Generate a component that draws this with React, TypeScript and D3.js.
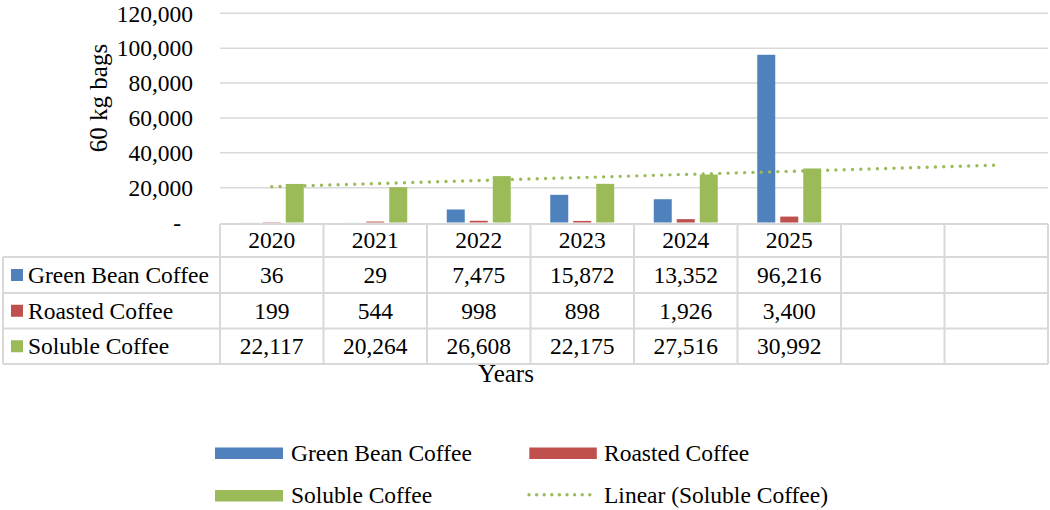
import React from "react";
import * as d3 from "d3";

// Coffee exports, in 60 kg bags, by year
const years = ["2020", "2021", "2022", "2023", "2024", "2025", "", ""];
const seriesNames = ["Green Bean Coffee", "Roasted Coffee", "Soluble Coffee"];
const greenBean = [36, 29, 7475, 15872, 13352, 96216];
const roasted = [199, 544, 998, 898, 1926, 3400];
const soluble = [22117, 20264, 26608, 22175, 27516, 30992];
const yTicks = [0, 20000, 40000, 60000, 80000, 100000, 120000];
const colors = ["#4f81bd", "#c0504d", "#9bbb59"];

const W = 1050;
const H = 510;
const FONT = "'Liberation Serif', 'Times New Roman', serif";
const GRID = "#d9d9d9";

export default function App() {
  const values = [greenBean, roasted, soluble];
  const fmt = d3.format(",");

  const plotLeft = 220;
  const plotRight = 1048;
  const plotTop = 13.3;
  const plotBottom = 222.5;

  const x = d3.scaleBand<number>().domain(d3.range(years.length)).range([plotLeft, plotRight]);
  const step = x.step();
  const x1 = d3
    .scaleBand<number>()
    .domain(d3.range(seriesNames.length))
    .range([0, step])
    .paddingInner(5 / 23)
    .paddingOuter(0.8587);
  const y = d3.scaleLinear().domain([0, 120000]).range([plotBottom, plotTop]);

  // Least-squares linear trend of soluble coffee, extended across all columns
  const n = soluble.length;
  const xs = d3.range(1, n + 1);
  const mx = d3.mean(xs)!;
  const my = d3.mean(soluble)!;
  const slope =
    d3.sum(xs, (xi, i) => (xi - mx) * (soluble[i] - my)) / d3.sum(xs, (xi) => (xi - mx) ** 2);
  const intercept = my - slope * mx;
  const trendPts: [number, number][] = d3.range(years.length).map((i) => [
    x(i)! + step / 2,
    y(intercept + slope * (i + 1)),
  ]);
  const trendPath = d3.line()(trendPts)!;

  // Data table geometry
  const tableLeft = 3;
  const headerTop = 224;
  const rowLines = [257, 293, 328.5, 364];

  return (
    <svg
      width={W}
      height={H}
      style={{ position: "absolute", left: 0, top: 0, background: "#fff", fontFamily: FONT }}
    >
      {/* gridlines */}
      {yTicks.slice(1).map((t) => (
        <line key={t} x1={plotLeft} x2={plotRight} y1={y(t)} y2={y(t)} stroke={GRID} strokeWidth={1.5} />
      ))}
      {/* y tick labels */}
      {yTicks.map((t) => (
        <text
          key={t}
          x={t === 0 ? 181 : 193}
          y={y(t)}
          dy="0.35em"
          textAnchor="end"
          fontSize={23.5}
          fill="#000"
        >
          {t === 0 ? "-" : fmt(t)}
        </text>
      ))}
      <text
        transform={`translate(107,98) rotate(-90)`}
        textAnchor="middle"
        fontSize={25}
        fill="#000"
      >
        60 kg bags
      </text>

      {/* bars */}
      {values.map((vals, s) =>
        vals.map((v, i) => (
          <rect
            key={`${s}-${i}`}
            x={x(i)! + x1(s)!}
            y={y(v)}
            width={x1.bandwidth()}
            height={plotBottom - y(v)}
            fill={colors[s]}
          />
        ))
      )}

      {/* trendline */}
      <path
        d={trendPath}
        fill="none"
        stroke="#9bbb59"
        strokeWidth={3.4}
        strokeLinecap="round"
        strokeDasharray="0 8.3"
      />

      {/* data table */}
      <g stroke={GRID} strokeWidth={2}>
        <line x1={plotLeft} x2={plotRight} y1={headerTop} y2={headerTop} />
        {rowLines.map((ry) => (
          <line key={ry} x1={tableLeft} x2={plotRight} y1={ry} y2={ry} />
        ))}
        <line x1={tableLeft} x2={tableLeft} y1={rowLines[0]} y2={rowLines[3]} />
        {d3.range(years.length + 1).map((i) => {
          const lx = plotLeft + i * step;
          return <line key={i} x1={lx} x2={lx} y1={headerTop} y2={rowLines[3]} />;
        })}
      </g>
      {years.map((yr, i) => (
        <text key={i} x={x(i)! + step / 2} y={248} textAnchor="middle" fontSize={23.5}>
          {yr}
        </text>
      ))}
      {seriesNames.map((name, s) => {
        const top = rowLines[s];
        const bottom = rowLines[s + 1];
        const mid = (top + bottom) / 2;
        return (
          <g key={name}>
            <rect x={11} y={mid - 6} width={12} height={12} fill={colors[s]} />
            <text x={28} y={mid + 8} fontSize={23.5}>
              {name}
            </text>
            {values[s].map((v, i) => (
              <text key={i} x={x(i)! + step / 2} y={mid + 8} textAnchor="middle" fontSize={23.5}>
                {fmt(v)}
              </text>
            ))}
          </g>
        );
      })}
      <text x={506} y={382} textAnchor="middle" fontSize={25}>
        Years
      </text>

      {/* legend */}
      <g fontSize={23.5}>
        <rect x={215} y={447.5} width={68} height={11.5} fill={colors[0]} />
        <text x={291} y={461}>{seriesNames[0]}</text>
        <rect x={529.3} y={447.5} width={67.5} height={11.5} fill={colors[1]} />
        <text x={604} y={461}>{seriesNames[1]}</text>
        <rect x={215} y={490} width={68} height={11.5} fill={colors[2]} />
        <text x={291} y={502.7}>{seriesNames[2]}</text>
        <line
          x1={529}
          x2={597}
          y1={494.8}
          y2={494.8}
          stroke="#9bbb59"
          strokeWidth={3.4}
          strokeLinecap="round"
          strokeDasharray="0 7.6"
        />
        <text x={604} y={502.7}>Linear (Soluble Coffee)</text>
      </g>
    </svg>
  );
}
